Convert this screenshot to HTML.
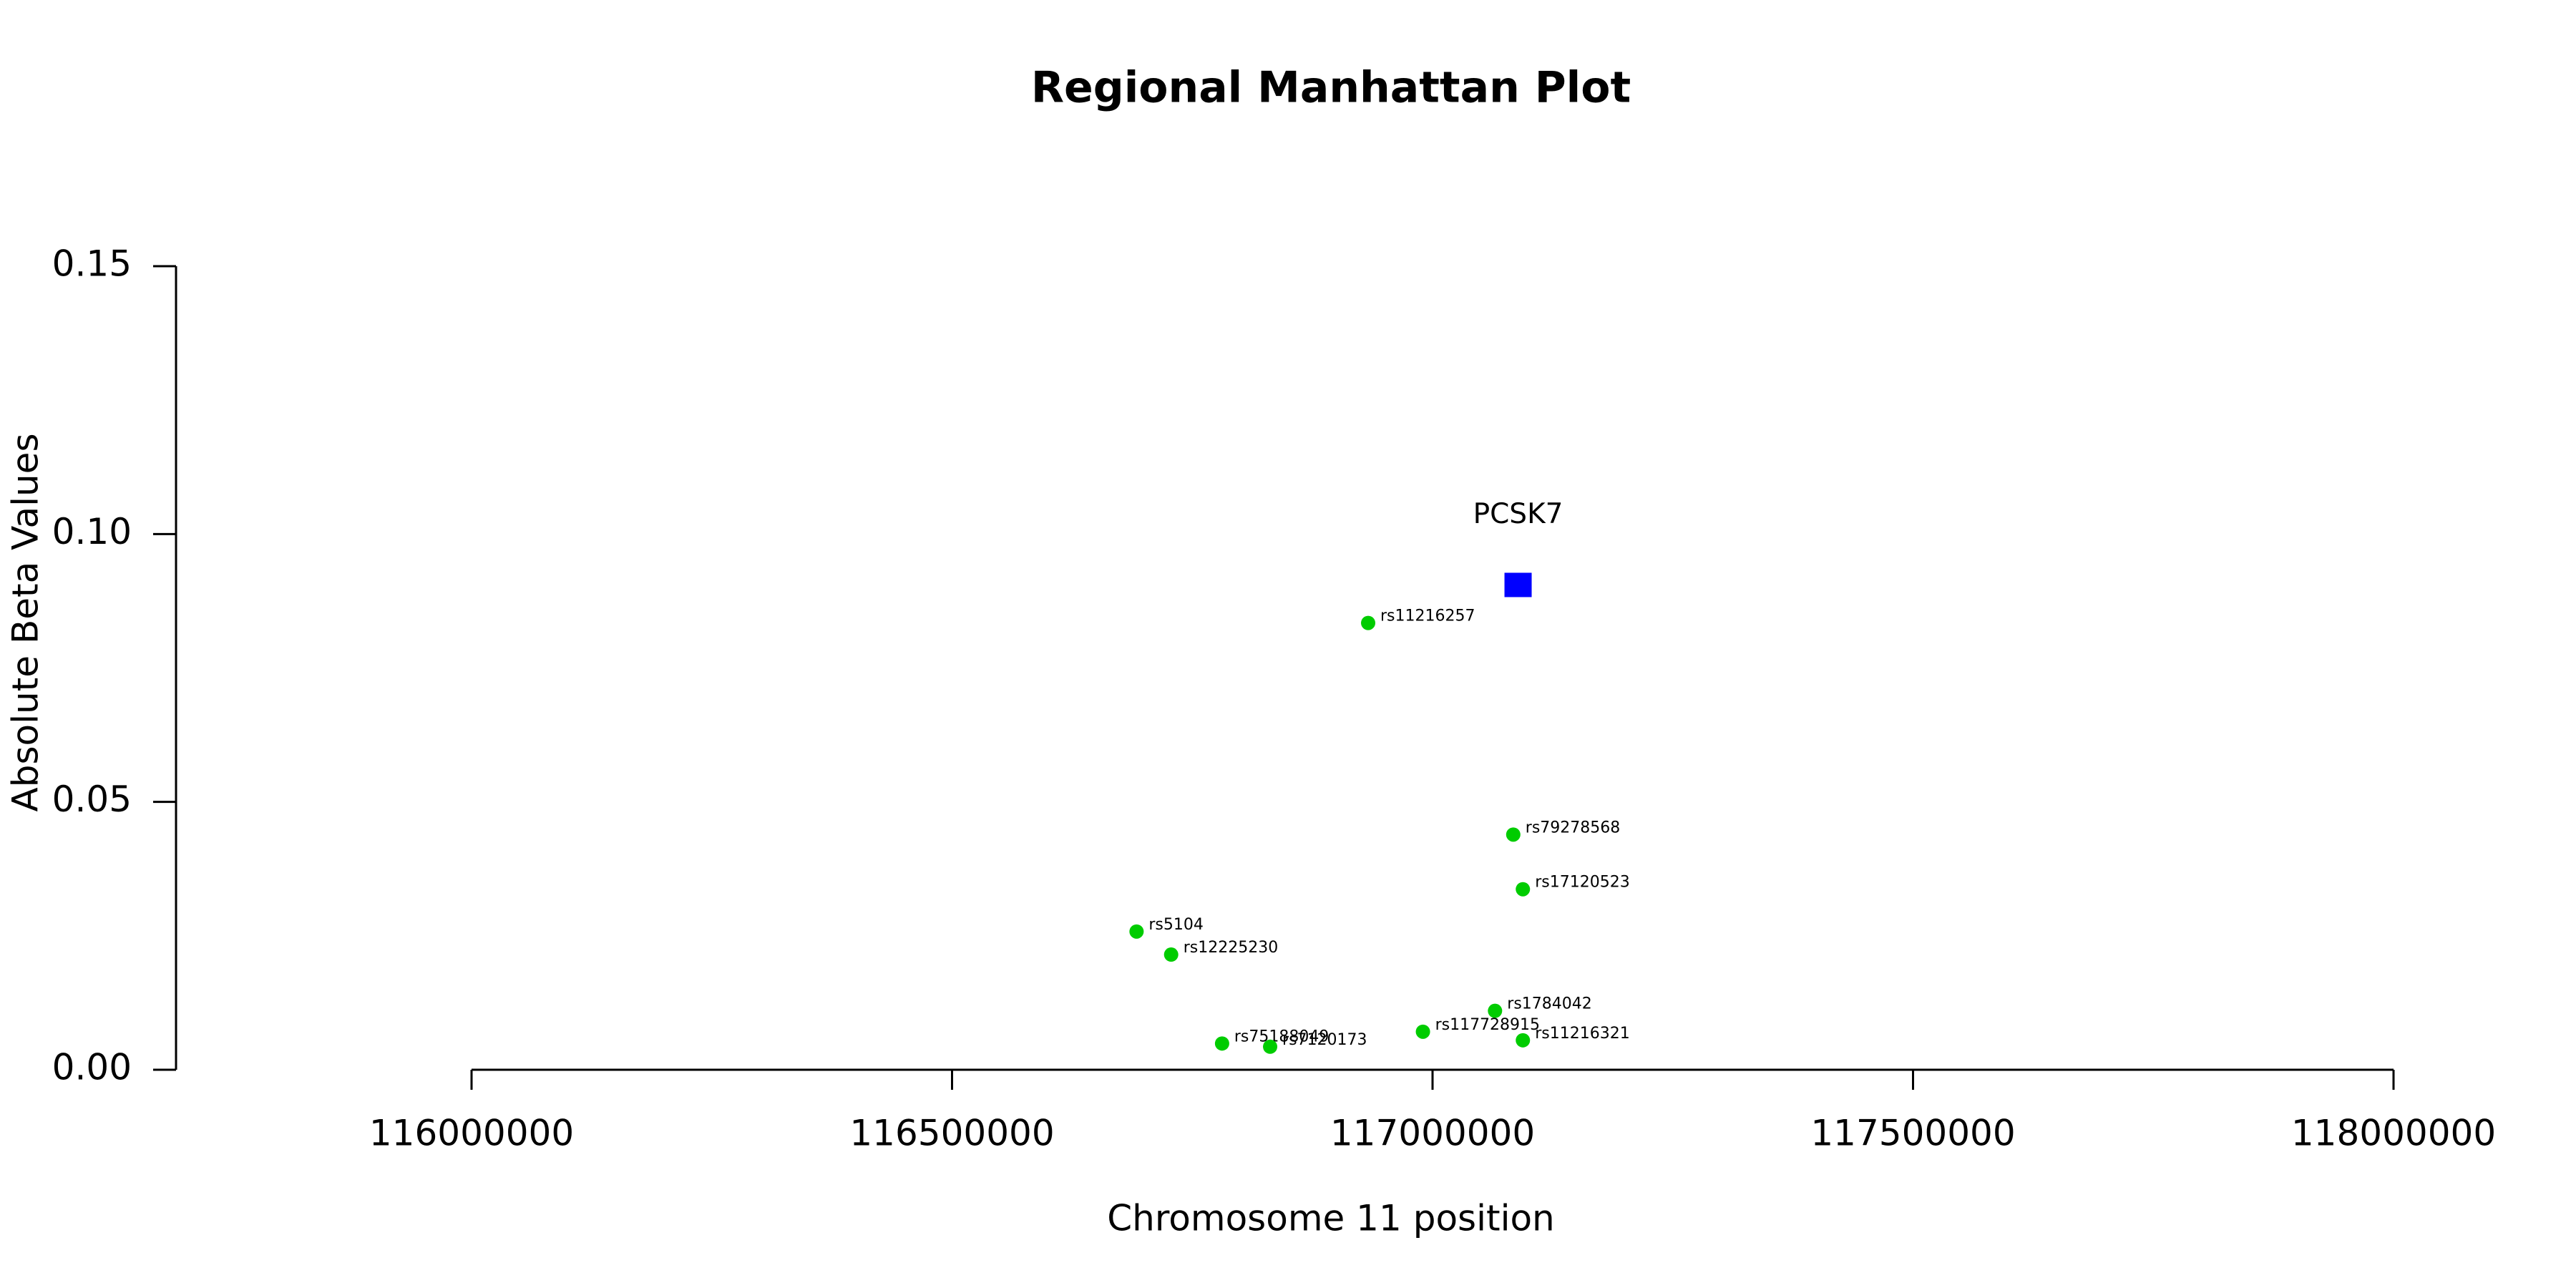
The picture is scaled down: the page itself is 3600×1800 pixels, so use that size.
<!DOCTYPE html>
<html><head><meta charset="utf-8"><style>
html,body{margin:0;padding:0;background:#fff;}
svg{display:block;font-family:"DejaVu Sans","Liberation Sans",sans-serif;}
</style></head><body>
<svg id="chart" width="3600" height="1800" viewBox="0 0 3600 1800" xmlns="http://www.w3.org/2000/svg">
<rect width="3600" height="1800" fill="#fff"/>
<text x="1860" y="126" text-anchor="middle" dominant-baseline="middle" font-size="60" font-weight="bold">Regional Manhattan Plot</text>
<text x="1860" y="1706" text-anchor="middle" dominant-baseline="middle" font-size="50">Chromosome 11 position</text>
<text transform="translate(39,870) rotate(-90)" text-anchor="middle" dominant-baseline="middle" font-size="50">Absolute Beta Values</text>
<g id="axes"></g>
<g id="marks"></g>
</svg>
<script>
const snpNames = ["rs11216257","rs79278568","rs17120523","rs5104","rs12225230","rs1784042","rs117728915","rs11216321","rs75188049","rs7120173"];
const snpPositions = [116933000,117084000,117094000,116692000,116728000,117065000,116990000,117094000,116781000,116831000];
const snpBetas = [0.0834,0.0439,0.0337,0.0258,0.0215,0.0110,0.0071,0.0055,0.0049,0.0043];
const geneNames = ["PCSK7"];
const genePositions = [117089000];
const geneBetas = [0.0905];
const xTicks = [116000000,116500000,117000000,117500000,118000000];
const yTicks = [0.00,0.05,0.10,0.15];

const NS="http://www.w3.org/2000/svg";
const X0=116000000, X1=118000000, PX0=659, PX1=3345;
const Y0=0, Y1=0.15, PY0=1495, PY1=372;
function xs(v){return PX0+(v-X0)/(X1-X0)*(PX1-PX0);}
function ys(v){return PY0+(v-Y0)/(Y1-Y0)*(PY1-PY0);}
function mk(tag,attrs,parent){const e=document.createElementNS(NS,tag);for(const k in attrs)e.setAttribute(k,attrs[k]);parent.appendChild(e);return e;}
const axes=document.getElementById('axes'), marks=document.getElementById('marks');

const yl=mk('line',{x1:246,x2:246,y1:ys(Y1),y2:ys(Y0),stroke:'#000','stroke-width':3},axes);


yTicks.forEach(t=>{
  const l=mk('line',{x1:214,x2:246,y1:ys(t),y2:ys(t),stroke:'#000','stroke-width':3},axes);
  
  
  const tx=mk('text',{x:184,y:ys(t),'text-anchor':'end','dominant-baseline':'middle','font-size':50},axes);
  
  
  tx.textContent=t.toFixed(2);
});
const xl=mk('line',{x1:xs(X0),x2:xs(X1),y1:PY0,y2:PY0,stroke:'#000','stroke-width':3},axes);


xTicks.forEach(t=>{
  const l=mk('line',{x1:xs(t),x2:xs(t),y1:PY0,y2:PY0+28,stroke:'#000','stroke-width':3},axes);
  
  
  const tx=mk('text',{x:xs(t),y:1587,'text-anchor':'middle','dominant-baseline':'middle','font-size':50},axes);
  
  
  tx.textContent=String(t);
});
snpNames.forEach((n,i)=>{
  const cx=xs(snpPositions[i]), cy=ys(snpBetas[i]);
  const c=mk('circle',{cx:cx,cy:cy,r:10,fill:'#00cc00'},marks);
  
  
  const t=mk('text',{x:cx+17,y:cy-9,'dominant-baseline':'middle','font-size':22},marks);
  
  
  t.textContent=n;
});
geneNames.forEach((n,i)=>{
  const cx=xs(genePositions[i]), cy=ys(geneBetas[i]);
  const r=mk('rect',{x:cx-19,y:cy-17,width:38,height:34,fill:'#0000ff'},marks);
  
  
  const t=mk('text',{x:cx,y:cy-97,'text-anchor':'middle','dominant-baseline':'middle','font-size':39},marks);
  
  
  t.textContent=n;
});
</script>
</body></html>
